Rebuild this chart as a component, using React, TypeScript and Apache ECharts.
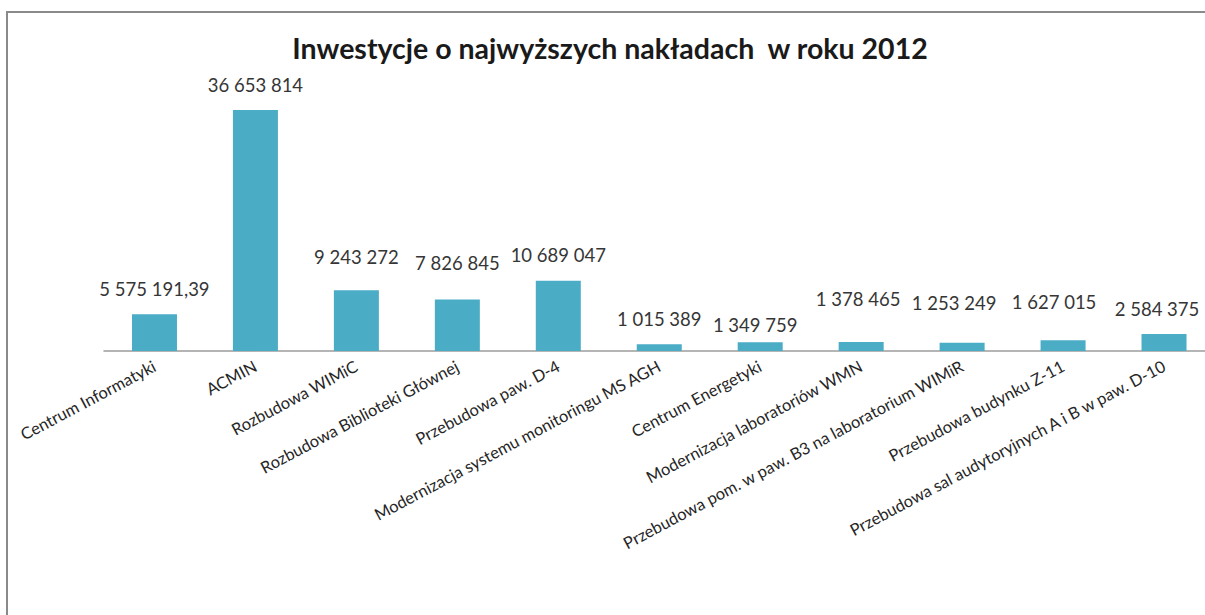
import React, { useEffect, useRef } from "react";
import * as echarts from "echarts";

const title = "Inwestycje o najwyższych nakładach  w roku 2012";

const categories = [
  "Centrum Informatyki",
  "ACMIN",
  "Rozbudowa WIMiC",
  "Rozbudowa Biblioteki Głównej",
  "Przebudowa paw. D-4",
  "Modernizacja systemu monitoringu MS AGH",
  "Centrum Energetyki",
  "Modernizacja laboratoriów WMN",
  "Przebudowa pom. w paw. B3 na laboratorium WIMiR",
  "Przebudowa budynku Z-11",
  "Przebudowa sal audytoryjnych A i B w paw. D-10",
];

const values = [
  5575191.39, 36653814, 9243272, 7826845, 10689047, 1015389, 1349759, 1378465,
  1253249, 1627015, 2584375,
];

// manual label nudges (as in the original spreadsheet), [dx, dy] in px
const labelNudges: [number, number][] = [
  [0, 0],
  [0, 0],
  [0, -8],
  [0, -11],
  [0, 0],
  [0, 0],
  [-5, 8],
  [-3, -17],
  [-8, -14],
  [-9, -13],
  [-7, 0],
];

function formatPl(v: number): string {
  const neg = v < 0;
  const abs = Math.abs(v);
  const intPart = Math.floor(abs);
  const frac = abs - intPart;
  const s = String(intPart).replace(/\B(?=(\d{3})+(?!\d))/g, " ");
  let out = s;
  if (frac > 0.0001) {
    out += "," + Math.round(frac * 100).toString().padStart(2, "0");
  }
  return (neg ? "-" : "") + out;
}

export default function App() {
  const ref = useRef<HTMLDivElement>(null);
  useEffect(() => {
    if (!ref.current) return;
    const chart = echarts.init(ref.current, null, { renderer: "svg" });
    const font = "Lato, 'Open Sans', sans-serif";
    chart.setOption({
      animation: false,
      title: {
        text: title,
        left: 605,
        textAlign: "center",
        top: 28,
        textStyle: {
          fontFamily: font,
          fontWeight: "bold",
          fontSize: 28.5,
          color: "#1a1a1a",
        },
      },
      grid: {
        left: 104,
        top: 88,
        width: 1110.5,
        height: 263,
        containLabel: false,
      },
      xAxis: {
        type: "category",
        data: categories,
        axisLine: { show: true, lineStyle: { color: "#9c9c9c", width: 1.5 } },
        axisTick: { show: false },
        axisLabel: {
          interval: 0,
          rotate: 28,
          margin: 14,
          fontFamily: font,
          fontSize: 16.5,
          color: "#262626",
        },
      },
      yAxis: {
        type: "value",
        min: 0,
        max: 40000000,
        show: false,
        splitLine: { show: false },
      },
      series: [
        {
          type: "bar",
          barWidth: 45,
          itemStyle: { color: "#4BACC6" },
          data: values.map((v, i) => ({
            value: v,
            label: {
              offset: labelNudges[i],
            },
          })),
          label: {
            show: true,
            position: "top",
            distance: 16,
            fontFamily: font,
            fontSize: 18.5,
            color: "#363636",
            formatter: (p: any) => formatPl(p.value),
          },
        },
      ],
    });
    return () => chart.dispose();
  }, []);
  return (
    <div
      style={{
        position: "absolute",
        left: 0,
        top: 0,
        width: 1205,
        height: 615,
        overflow: "hidden",
        background: "#ffffff",
      }}
    >
      <div ref={ref} style={{ position: "absolute", left: 0, top: 0, width: 1320, height: 720 }} />
      <div
        style={{
          position: "absolute",
          left: 6,
          top: 11,
          width: 1400,
          height: 800,
          border: "2px solid #8a8a8a",
          pointerEvents: "none",
        }}
      />
    </div>
  );
}
